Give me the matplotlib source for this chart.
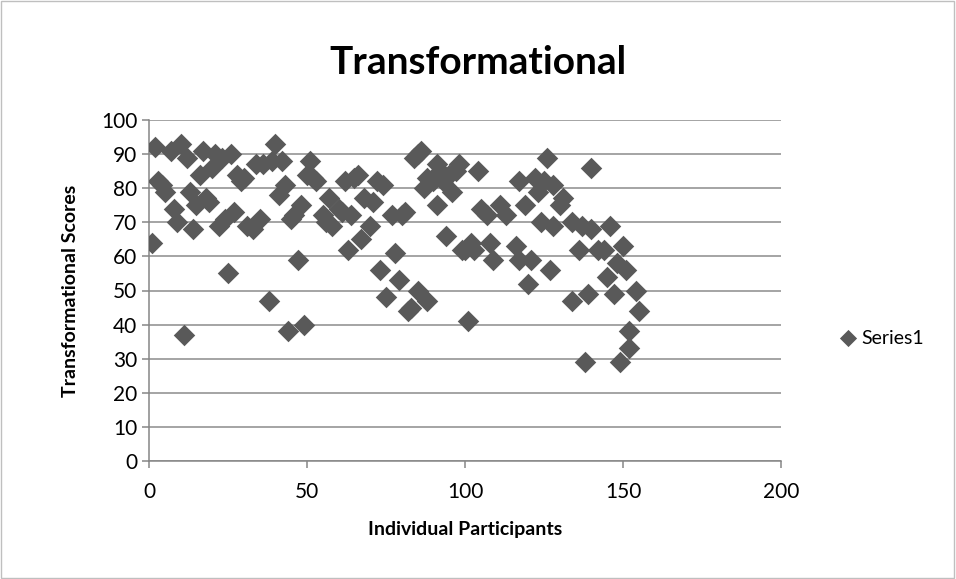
import matplotlib.pyplot as plt
from matplotlib.patches import Rectangle

# participant number and transformational score
participant = [1, 2, 3, 4, 5, 7, 8, 9, 10, 11, 12, 13, 14, 15, 16, 17, 18, 19, 20,
               21, 22, 23, 24, 25, 26, 27, 28, 29, 30, 31, 33, 34, 35, 36, 38, 39, 40,
               41, 42, 43, 44, 45, 46, 47, 48, 49, 50, 51, 52, 53, 55, 56, 57, 58, 60,
               61, 62, 63, 64, 65, 66, 67, 68, 70, 71, 72, 73, 74, 75, 77, 78, 79, 80,
               81, 82, 83, 84, 85, 85, 86, 87, 88, 88, 90, 91, 91, 92, 93, 94, 95, 96,
               97, 98, 99, 100,
               101, 102, 103, 104, 105, 107, 108, 109, 111, 113, 116, 117, 117, 119,
               120, 121, 122, 123, 124, 125, 126, 127, 128, 128, 130, 131, 134, 134,
               136, 137, 138, 139, 140, 140, 142, 144, 145, 146, 147, 148, 149, 150,
               151, 152, 152, 154, 155]
score = [64, 92, 82, 81, 79, 91, 74, 70, 93, 37, 89, 79, 68, 75, 84, 91, 77, 76, 86,
         90, 69, 89, 71, 55, 90, 73, 84, 82, 83, 69, 68, 87, 71, 87, 47, 88, 93,
         78, 88, 81, 38, 71, 72, 59, 75, 40, 84, 88, 83, 82, 72, 70, 77, 69, 74,
         73, 82, 62, 72, 83, 84, 65, 77, 69, 76, 82, 56, 81, 48, 72, 61, 53, 72,
         73, 44, 45, 89, 50, 90, 91, 80, 47, 83, 82, 75, 87, 85, 82, 66, 84, 79,
         85, 87, 62, 62,
         41, 64, 62, 85, 74, 72, 64, 59, 75, 72, 63, 59, 82, 75,
         52, 59, 83, 79, 70, 82, 89, 56, 81, 69, 75, 77, 70, 47,
         62, 69, 29, 49, 86, 68, 62, 62, 54, 69, 49, 58, 29, 63,
         56, 38, 33, 50, 44]

plt.rcParams['font.family'] = ['Lato', 'DejaVu Sans']

fig = plt.figure(figsize=(9.56, 5.79), dpi=100)
ax = fig.add_axes([149 / 956, 1 - 461 / 579, 632 / 956, 341 / 579])

ax.scatter(participant, score, marker='D', s=120, color='#595959',
           linewidths=0, zorder=3, label='Series1')

ax.set_xlim(0, 200)
ax.set_ylim(0, 100)
ax.set_xticks(range(0, 201, 50))
ax.set_yticks(range(0, 101, 10))
ax.grid(axis='y', color='#8c8c8c', linewidth=1.1)
ax.tick_params(colors='#868686', labelcolor='black', labelsize=15,
               length=5, width=1.1)
ax.tick_params(axis='x', pad=10)
for side in ['top', 'right']:
    ax.spines[side].set_visible(False)
for side in ['left', 'bottom']:
    ax.spines[side].set_color('#868686')
    ax.spines[side].set_linewidth(1.1)

ax.set_xlabel('Individual Participants', fontsize=14, fontweight='bold', labelpad=14)
ax.set_ylabel('Transformational Scores', fontsize=14, fontweight='bold', labelpad=16)
fig.text(0.5, 1 - 62 / 579, 'Transformational', ha='center', va='center',
         fontsize=28, fontweight='bold')

fig.legend(loc='center left', bbox_to_anchor=(840 / 956, 1 - 338 / 579),
           frameon=False, fontsize=14, handletextpad=0.3, handlelength=0.8,
           borderpad=0, borderaxespad=0, markerscale=0.8)

fig.patches.append(Rectangle((0.001, 0.001), 0.997, 0.997, transform=fig.transFigure,
                             fill=False, edgecolor='#bfbfbf', linewidth=1))

plt.savefig('out.png')
plt.close()
